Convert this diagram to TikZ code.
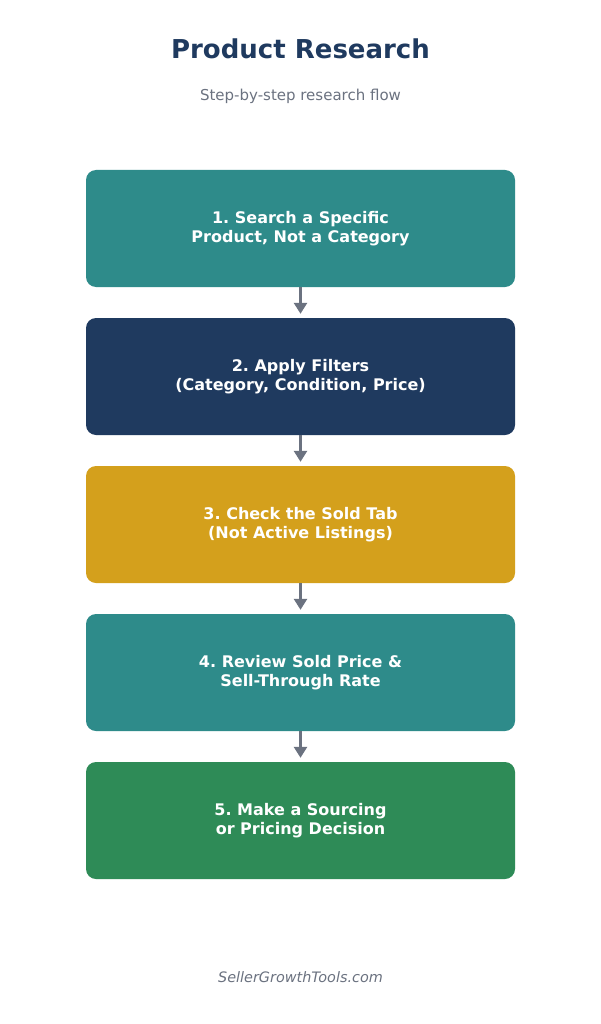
\documentclass[tikz,border=0pt]{standalone}
\usepackage{fontspec}
\setmainfont{DejaVu Sans}
\usetikzlibrary{arrows.meta}
\frenchspacing
\definecolor{teal1}{HTML}{2E8B8A}
\definecolor{navy1}{HTML}{1F3A5F}
\definecolor{gold1}{HTML}{D4A01C}
\definecolor{green1}{HTML}{2E8B57}
\definecolor{arrowgray}{HTML}{6B7280}
\definecolor{subgray}{HTML}{6B7280}
\tikzset{
  stepbox/.style={rounded corners=10pt, minimum width=429pt, minimum height=117pt,
    inner sep=0pt, text=white, align=center,
    font=\fontsize{16}{19}\selectfont\bfseries},
  flowarrow/.style={draw=arrowgray, line width=2.6pt, -{Triangle[length=11pt,width=13pt]}, shorten >=4pt}
}
\begin{document}
\begin{tikzpicture}[x=1pt,y=-1pt]
\useasboundingbox[fill=white] (0,0) rectangle (601,1024);
\node[font=\fontsize{26}{30}\selectfont\bfseries, text=navy1] (title) at (300.5,49) {Product Research};
\node[font=\fontsize{15}{18}\selectfont, text=subgray] (sub) at (300.5,96) {Step-by-step research flow};
\node[stepbox, fill=teal1] (s1) at (300.5,228.5) {1. Search a Specific\\Product, Not a Category};
\node[stepbox, fill=navy1] (s2) at (300.5,376.5) {2. Apply Filters\\(Category, Condition, Price)};
\node[stepbox, fill=gold1] (s3) at (300.5,524.5) {3. Check the Sold Tab\\(Not Active Listings)};
\node[stepbox, fill=teal1] (s4) at (300.5,672.5) {4. Review Sold Price \&\\Sell-Through Rate};
\node[stepbox, fill=green1] (s5) at (300.5,820.5) {5. Make a Sourcing\\or Pricing Decision};
\draw[flowarrow] (s1.south) -- (s2.north);
\draw[flowarrow] (s2.south) -- (s3.north);
\draw[flowarrow] (s3.south) -- (s4.north);
\draw[flowarrow] (s4.south) -- (s5.north);
\node[font=\fontsize{14.4}{17}\selectfont\itshape, text=subgray] (foot) at (300.5,977) {SellerGrowthTools.com};
\end{tikzpicture}
\end{document}
